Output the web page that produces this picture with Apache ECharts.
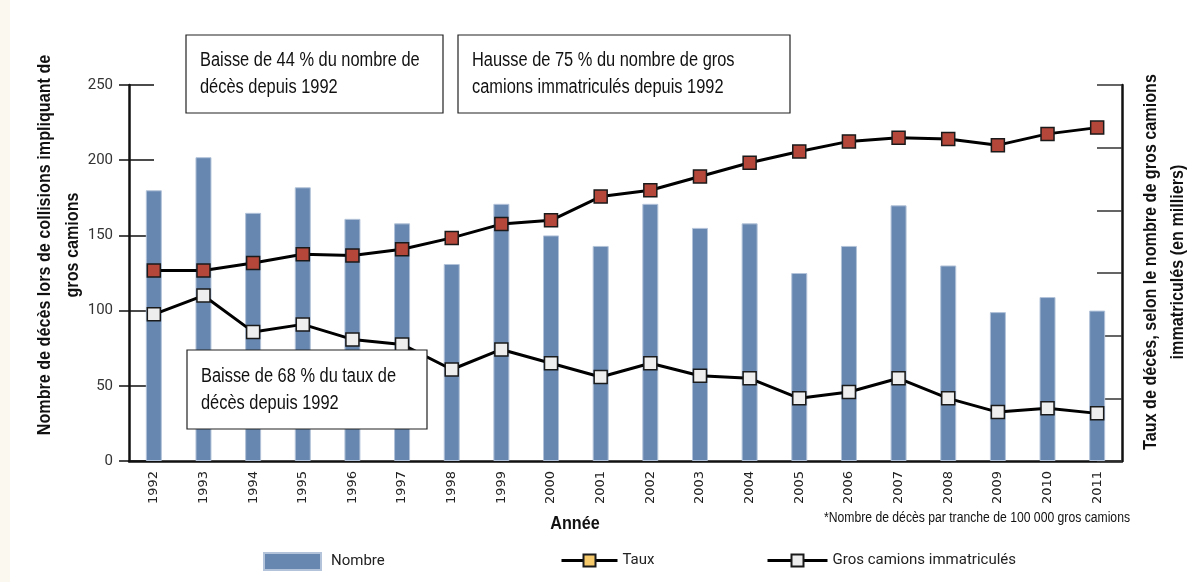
<!DOCTYPE html>
<html>
<head>
<meta charset="utf-8">
<script src="https://cdn.jsdelivr.net/npm/echarts@6/dist/echarts.min.js"></script>
<style>
  html, body { margin: 0; padding: 0; background: #fff; }
  #chart { width: 1203px; height: 582px; }
</style>
</head>
<body>
<div id="chart"></div>
<script>
// Année
const years = ["1992", "1993", "1994", "1995", "1996", "1997", "1998", "1999", "2000", "2001",
  "2002", "2003", "2004", "2005", "2006", "2007", "2008", "2009", "2010", "2011"];

// Nombre de décès (axe de gauche)
const nombre = [180, 202, 165, 182, 161, 158, 131, 171, 150, 143,
  171, 155, 158, 125, 143, 170, 130, 99, 109, 100];

// Gros camions immatriculés (axe de droite, sans étiquettes)
const camions = [152, 152, 158, 165, 164, 169, 178, 189, 192, 211,
  216, 227, 238, 247, 255, 258, 257, 252, 261, 266];

// Taux de décès (axe de droite, sans étiquettes)
const taux = [117, 132, 103, 109, 97, 93, 73, 89, 78, 67,
  78, 68, 66, 50, 55, 66, 50, 39, 42, 38];

// pas de police étroite installée : Liberation Sans compressée horizontalement
const narrow = "'Liberation Sans', Arial, sans-serif";
const squeeze = 0.82;
const plain = "Roboto, 'Open Sans', sans-serif";

const chart = echarts.init(document.getElementById("chart"));

const boxText = (x, y, w, h, text) => [
  {
    type: "rect",
    z: 100,
    shape: { x: x, y: y, width: w, height: h },
    style: { fill: "#fff", stroke: "#222", lineWidth: 1.2 },
  },
  {
    type: "text",
    z: 101,
    x: x + 14,
    y: y + h / 2,
    scaleX: squeeze,
    style: {
      text: text,
      font: "20px " + narrow,
      fill: "#111",
      textVerticalAlign: "middle",
      lineHeight: 27,
    },
  },
];

const legendText = { fontFamily: plain, fontSize: 15, color: "#222" };

const option = {
  animation: false,
  grid: { left: 129, right: 81, top: 85, bottom: 121 },
  xAxis: {
    type: "category",
    data: years,
    boundaryGap: true,
    axisLine: { lineStyle: { color: "#111", width: 2.5 } },
    axisTick: { inside: true, length: 8, lineStyle: { color: "#111", width: 2 } },
    axisLabel: {
      rotate: 90,
      margin: 10,
      color: "#222",
      fontFamily: "'DejaVu Sans', sans-serif",
      fontSize: 13,
    },
  },
  yAxis: [
    {
      type: "value",
      position: "left",
      min: 0,
      max: 250,
      interval: 50,
      splitLine: { show: false },
      axisLine: { show: true, lineStyle: { color: "#111", width: 2.5 } },
      axisTick: { show: true, length: 10, lineStyle: { color: "#111", width: 1.5 } },
      axisLabel: { color: "#333", fontFamily: plain, fontSize: 15, margin: 16 },
    },
    {
      type: "value",
      position: "right",
      min: 0,
      max: 300,
      interval: 50,
      splitLine: { show: false },
      axisLine: { show: true, lineStyle: { color: "#111", width: 2.5 } },
      axisTick: { show: true, inside: true, length: 25, lineStyle: { color: "#333", width: 1.5 } },
      axisLabel: { show: false },
    },
    {
      type: "value",
      position: "left",
      min: 0,
      max: 250,
      interval: 50,
      splitLine: { show: false },
      axisLine: { show: false },
      axisTick: { show: true, inside: true, length: 25, lineStyle: { color: "#111", width: 1.5 } },
      axisLabel: { show: false },
    },
  ],
  legend: [
    {
      left: 263,
      top: 552,
      padding: 0,
      selectedMode: false,
      icon: "rect",
      itemWidth: 57,
      itemHeight: 17,
      data: ["Nombre"],
      textStyle: Object.assign({ padding: [0, 0, 0, 5] }, legendText),
    },
    {
      left: 560,
      top: 553,
      padding: 0,
      selectedMode: false,
      itemWidth: 56,
      itemHeight: 15,
      lineStyle: { width: 3 },
      data: [{ name: "Taux", itemStyle: { color: "#f6c96b" } }],
      textStyle: legendText,
    },
    {
      left: 766,
      top: 553,
      padding: 0,
      selectedMode: false,
      itemWidth: 60,
      itemHeight: 15,
      lineStyle: { width: 3 },
      data: [{ name: "Gros camions immatriculés", itemStyle: { color: "#eeeeee" } }],
      textStyle: legendText,
    },
  ],
  series: [
    {
      name: "Nombre",
      type: "bar",
      yAxisIndex: 0,
      barWidth: 16,
      data: nombre,
      itemStyle: { color: "#6787b0", borderColor: "#b3c3d9", borderWidth: 1 },
    },
    {
      name: "Gros camions immatriculés",
      type: "line",
      yAxisIndex: 1,
      data: camions,
      symbol: "rect",
      symbolSize: 13,
      lineStyle: { color: "#000", width: 3 },
      itemStyle: { color: "#b5473a", borderColor: "#1a1a1a", borderWidth: 1.5 },
      z: 5,
    },
    {
      name: "Taux",
      type: "line",
      yAxisIndex: 1,
      data: taux,
      symbol: "rect",
      symbolSize: 13,
      lineStyle: { color: "#000", width: 3 },
      itemStyle: { color: "#eeeeee", borderColor: "#1a1a1a", borderWidth: 1.5 },
      z: 5,
    },
  ],
  graphic: [
    {
      type: "rect",
      shape: { x: 0, y: 0, width: 10, height: 582 },
      style: { fill: "#fbf8f0" },
      silent: true,
    },
    ...boxText(186, 35, 257, 78, "Baisse de 44 % du nombre de\ndécès depuis 1992"),
    ...boxText(458, 35, 332, 78, "Hausse de 75 % du nombre de gros\ncamions immatriculés depuis 1992"),
    ...boxText(187, 350, 240, 79, "Baisse de 68 % du taux de\ndécès depuis 1992"),
    {
      type: "text",
      x: 59,
      y: 245,
      rotation: Math.PI / 2,
      scaleX: 0.85,
      style: {
        text: "Nombre de décès lors de collisions impliquant de\ngros camions",
        font: "bold 19px " + narrow,
        fill: "#111",
        textAlign: "center",
        textVerticalAlign: "middle",
        lineHeight: 28,
      },
    },
    {
      type: "text",
      x: 1164,
      y: 262,
      rotation: Math.PI / 2,
      scaleX: 0.85,
      style: {
        text: "Taux de décès, selon le nombre de gros camions\nimmatriculés (en milliers)",
        font: "bold 19px " + narrow,
        fill: "#111",
        textAlign: "center",
        textVerticalAlign: "middle",
        lineHeight: 27,
      },
    },
    {
      type: "text",
      x: 575,
      y: 524,
      scaleX: 0.9,
      style: {
        text: "Année",
        font: "bold 18px " + narrow,
        fill: "#111",
        textAlign: "center",
        textVerticalAlign: "middle",
      },
    },
    {
      type: "text",
      x: 1130,
      y: 518,
      scaleX: 0.87,
      style: {
        text: "*Nombre de décès par tranche de 100 000 gros camions",
        font: "14px " + narrow,
        fill: "#111",
        textAlign: "right",
        textVerticalAlign: "middle",
      },
    },
  ],
};

chart.setOption(option);
</script>
</body>
</html>
